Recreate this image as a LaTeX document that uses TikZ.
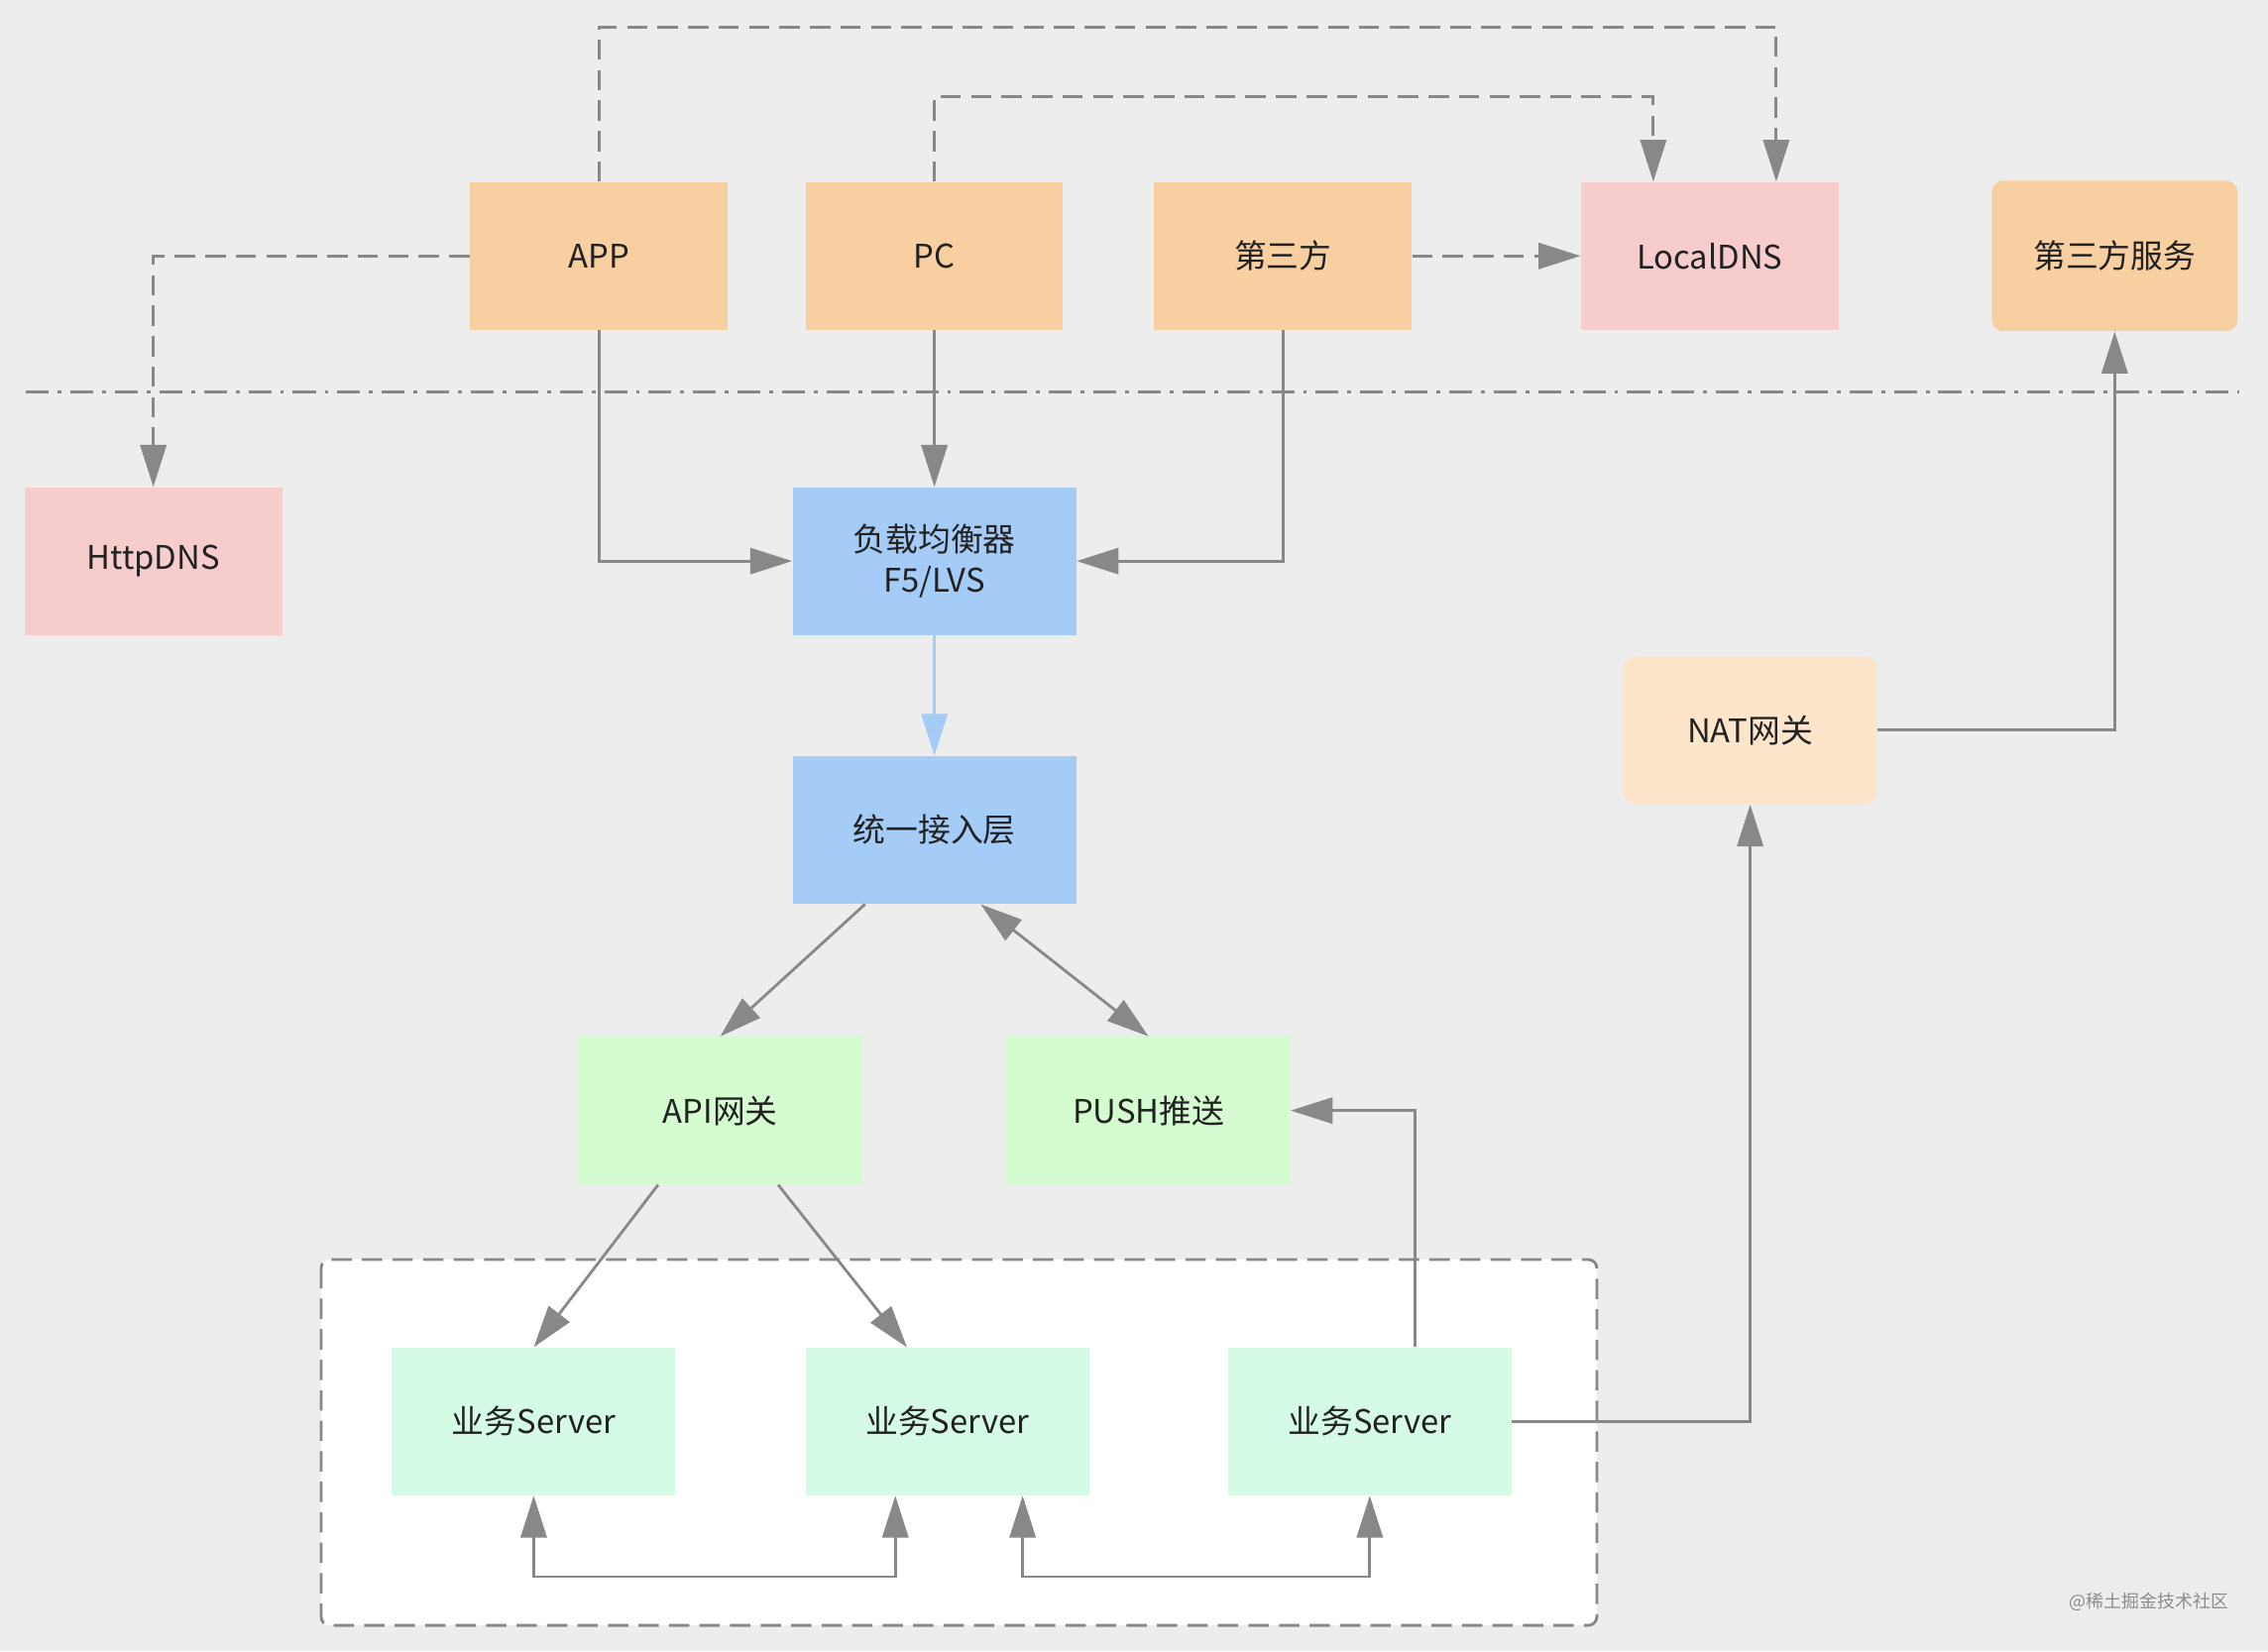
\documentclass[tikz,border=0pt]{standalone}
\usepackage{fontspec}
\setmainfont{Noto Sans CJK SC}
\usetikzlibrary{arrows.meta,calc}
\definecolor{bgcol}{HTML}{EDEDED}
\definecolor{clientcol}{HTML}{F8CFA0}
\definecolor{dnscol}{HTML}{F6CCCC}
\definecolor{lbcol}{HTML}{A5CBF7}
\definecolor{natcol}{HTML}{FDE5CC}
\definecolor{gwcol}{HTML}{D5FBD0}
\definecolor{srvcol}{HTML}{D5FBE6}
\definecolor{linecol}{HTML}{888888}
\definecolor{textcol}{HTML}{222222}
\begin{document}
\begin{tikzpicture}[x=0.02cm, y=-0.02cm,
		box/.style={minimum width=3.56cm, minimum height=2.04cm, inner sep=0pt, align=center, text=textcol, font=\fontsize{12.8}{16}\selectfont},
		wbox/.style={box, minimum width=3.92cm},
		link/.style={draw=linecol, line width=1.1pt, -{Triangle[length=0.58cm, width=0.36cm]}},
		dlink/.style={link, dash pattern=on 8pt off 4pt},
		both/.style={link, {Triangle[length=0.58cm, width=0.36cm]}-{Triangle[length=0.58cm, width=0.36cm]}}]
	\fill[bgcol] (0,0) rectangle (1568,1142);
	\draw[linecol, line width=1.1pt, dash pattern=on 9pt off 3.5pt on 1.5pt off 3.5pt] (18,271) -- (1548,271);
	\draw[linecol, line width=1.1pt, dash pattern=on 8pt off 4pt, fill=white, rounded corners=0.12cm] (222,871) rectangle (1104,1124);

	\node[box, fill=clientcol] (app) at (414,177) {APP};
	\node[box, fill=clientcol] (pc) at (646,177) {PC};
	\node[box, fill=clientcol] (third) at (887,177) {第三方};
	\node[box, fill=dnscol] (ldns) at (1182,177) {LocalDNS};
	\node[box, fill=clientcol, rounded corners=0.16cm, minimum width=3.4cm, minimum height=2.08cm] (tps) at (1462,177) {第三方服务};
	\node[box, fill=dnscol] (hdns) at (106,388) {HttpDNS};
	\node[wbox, fill=lbcol] (lb) at (646,388) {负载均衡器\\F5/LVS};
	\node[wbox, fill=lbcol] (access) at (646,574) {统一接入层};
	\node[box, fill=natcol, rounded corners=0.16cm, minimum width=3.5cm] (nat) at (1210,505) {NAT网关};
	\node[wbox, fill=gwcol] (api) at (498,768) {API网关};
	\node[wbox, fill=gwcol] (push) at (794,768) {PUSH推送};
	\node[wbox, fill=srvcol] (s1) at (369,983) {业务Server};
	\node[wbox, fill=srvcol] (s2) at (655,983) {业务Server};
	\node[wbox, fill=srvcol] (s3) at (947,983) {业务Server};

	\draw[dlink] (app.north) -- ++(0,-107) -| ($(ldns.north)+(46,0)$);
	\draw[dlink] (pc.north) -- ++(0,-59) -| ($(ldns.north)+(-39,0)$);
	\draw[dlink] (app.west) -| (hdns.north);
	\draw[dlink] (third.east) -- (ldns.west);

	\draw[link] (app.south) |- (lb.west);
	\draw[link] (pc.south) -- (lb.north);
	\draw[link] (third.south) |- (lb.east);
	\draw[link, draw=lbcol, -{Triangle[length=0.58cm, width=0.36cm, fill=lbcol]}] (lb.south) -- (access.north);
	\draw[link] ($(access.south)+(-48,0)$) -- (api.north);
	\draw[both] ($(access.south)+(32,0)$) -- (push.north);
	\draw[link] ($(api.south)+(-43,0)$) -- (s1.north);
	\draw[link] ($(api.south)+(40,0)$) -- ($(s2.north)+(-28,0)$);
	\draw[link] ($(s3.north)+(31,0)$) |- (push.east);
	\draw[link] (s3.east) -| (nat.south);
	\draw[link] (nat.east) -| (tps.south);
	\draw[both] (s1.south) -- ++(0,56) -| ($(s2.south)+(-36,0)$);
	\draw[both] ($(s2.south)+(52,0)$) -- ++(0,56) -| (s3.south);

	\node[anchor=east, text=black!45, font=\fontsize{7}{8}\selectfont, inner sep=0pt] (mark) at (1541,1108) {@稀土掘金技术社区};
\end{tikzpicture}
\end{document}
